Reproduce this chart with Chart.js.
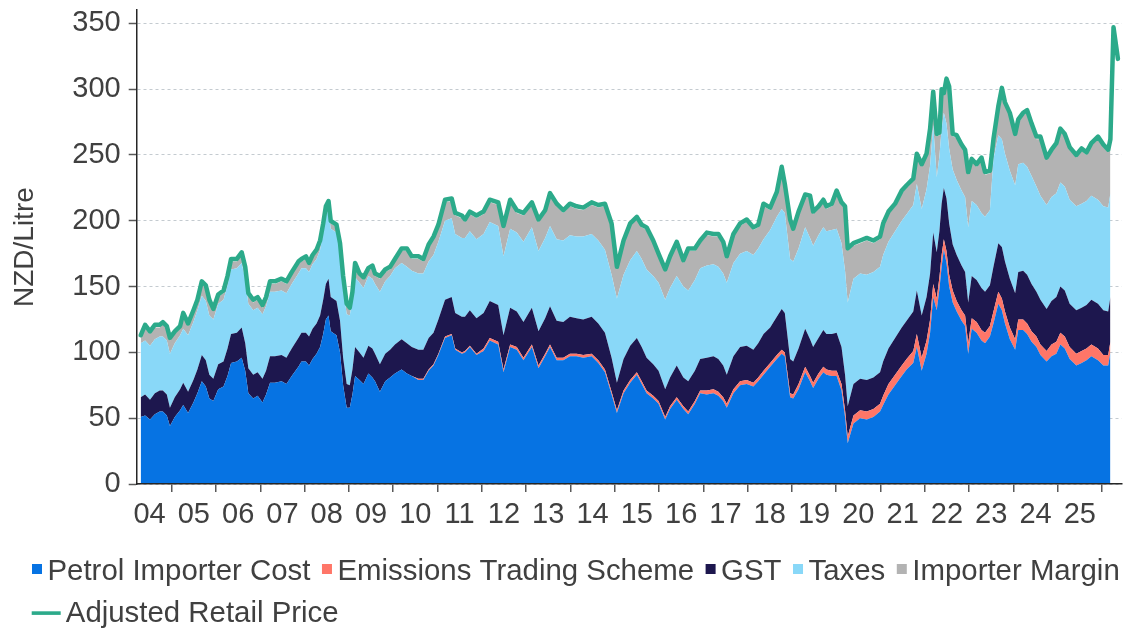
<!DOCTYPE html>
<html>
<head>
<meta charset="utf-8">
<script src="https://cdn.jsdelivr.net/npm/chart.js@4.4.1/dist/chart.umd.min.js"></script>
<style>
html,body{margin:0;padding:0;background:#ffffff;}
#wrap{width:1128px;height:628px;position:relative;}
</style>
</head>
<body>
<div id="wrap"><canvas id="c"></canvas></div>
<script>
// ---- data (decimal years, NZD cents per litre) ----
const weeks = [
2004.30,2004.40,2004.51,2004.62,2004.73,2004.80,2004.89,2004.96,2005.07,2005.19,
2005.26,2005.37,2005.49,2005.58,2005.68,2005.77,2005.85,2005.94,2006.05,2006.17,
2006.26,2006.34,2006.47,2006.58,2006.66,2006.73,2006.84,2006.94,2007.05,2007.13,
2007.22,2007.33,2007.48,2007.59,2007.71,2007.86,2007.93,2008.03,2008.10,2008.18,
2008.27,2008.35,2008.42,2008.48,2008.54,2008.59,2008.72,2008.80,2008.87,2008.95,
2009.02,2009.08,2009.14,2009.24,2009.33,2009.44,2009.53,2009.59,2009.70,2009.82,
2009.93,2010.04,2010.19,2010.31,2010.42,2010.57,2010.68,2010.80,2010.91,2011.02,
2011.17,2011.32,2011.40,2011.55,2011.62,2011.73,2011.88,2012.04,2012.18,2012.37,
2012.49,2012.64,2012.79,2012.94,2013.13,2013.28,2013.43,2013.54,2013.69,2013.84,
2013.99,2014.14,2014.29,2014.48,2014.63,2014.78,2014.93,2015.05,2015.20,2015.35,
2015.50,2015.61,2015.72,2015.87,2015.99,2016.14,2016.25,2016.40,2016.55,2016.66,
2016.81,2016.93,2017.08,2017.23,2017.34,2017.45,2017.53,2017.68,2017.83,2017.98,
2018.13,2018.24,2018.36,2018.51,2018.66,2018.77,2018.84,2018.96,2019.03,2019.15,
2019.30,2019.41,2019.48,2019.60,2019.71,2019.78,2019.90,2020.01,2020.12,2020.20,
2020.26,2020.39,2020.54,2020.69,2020.84,2020.99,2021.06,2021.18,2021.33,2021.48,
2021.59,2021.74,2021.82,2021.93,2022.04,2022.12,2022.19,2022.27,2022.33,2022.38,
2022.43,2022.49,2022.55,2022.63,2022.72,2022.83,2022.91,2022.98,2023.06,2023.17,
2023.28,2023.36,2023.47,2023.55,2023.66,2023.74,2023.81,2023.92,2024.04,2024.11,
2024.22,2024.31,2024.41,2024.52,2024.61,2024.75,2024.86,2024.97,2025.06,2025.16,
2025.27,2025.42,2025.54,2025.65,2025.76,2025.91,2026.03,2026.14,2026.19,2026.26,
2026.36
];

const importerCost = [
51,52,49,53,55,55,52,44,51,56,
60,54,62,69,78,74,65,63,72,74,
82,92,93,96,86,69,65,67,62,68,
77,77,78,76,82,89,93,93,90,95,
99,104,114,125,128,116,113,100,75,58,
58,68,82,79,76,84,81,78,70,78,
81,84,87,84,82,79,79,86,90,98,
111,113,102,99,100,104,98,101,109,106,
85,104,102,94,104,88,97,104,94,94,
97,97,96,97,92,85,68,54,69,77,
83,76,69,65,61,49,57,64,57,53,
61,69,68,69,67,63,58,69,75,76,
74,78,83,89,95,99,97,66,65,72,
85,78,73,80,85,83,82,82,71,51,
31,46,50,49,51,55,60,68,75,82,
87,92,104,86,99,115,142,132,148,165,
178,168,150,138,131,124,120,99,118,115,
109,107,112,122,137,132,122,110,102,117,
117,114,108,104,98,93,97,99,106,103,
95,90,92,94,97,94,90,90,100
];

const ets = [
0,0,0,0,0,0,0,0,0,0,
0,0,0,0,0,0,0,0,0,0,
0,0,0,0,0,0,0,0,0,0,
0,0,0,0,0,0,0,0,0,0,
0,0,0,0,0,0,0,0,0,0,
0,0,0,0,0,0,0,0,0,0,
0,0,0,0,0,1,1,1,1,1,
1,1,1,1,1,1,1,2,2,2,
2,2,2,2,2,2,2,2,2,2,
2,2,2,2,2,2,2,2,2,2,
2,2,2,2,2,2,2,2,2,2,
2,2,3,3,3,3,3,3,3,3,
3,3,3,3,3,3,3,3,3,4,
4,4,4,4,4,4,4,4,5,5,
5,6,6,6,6,6,7,8,8,8,
8,9,10,10,10,10,10,9,9,9,
8,9,9,9,8,8,8,8,8,8,
8,8,8,9,9,9,9,9,8,8,
8,8,8,8,8,8,9,9,9,9,
9,9,9,9,9,9,8,8,8
];

const gst = [
15,16,15,16,16,16,16,14,15,16,
17,16,17,18,20,20,18,17,19,19,
21,22,22,23,21,19,18,18,18,18,
20,20,20,20,21,22,22,22,22,23,
23,24,26,27,28,26,26,24,21,18,
17,19,22,21,20,21,22,21,21,21,
21,22,23,23,22,22,22,24,24,26,
28,28,27,27,26,27,27,27,28,28,
26,28,27,27,28,26,27,29,28,27,
28,27,27,28,28,28,26,21,24,26,
26,26,25,24,23,21,22,24,22,23,
23,24,25,25,25,24,22,25,26,26,
25,26,28,27,29,31,30,26,25,27,
29,28,27,27,28,27,28,29,28,27,
23,24,24,24,24,24,26,27,28,29,
29,30,33,32,33,35,39,35,35,39,
39,40,39,35,35,34,33,31,32,32,
32,31,31,34,37,39,38,37,35,36,
37,37,36,34,34,32,33,34,35,35,
33,33,33,33,34,34,34,33,34
];

const taxes = [
41,41,41,41,41,41,41,41,41,41,
41,43,44,45,45,45,45,45,46,47,
48,49,49,49,49,49,49,49,49,49,
49,49,49,49,49,49,49,49,49,49,
49,50,51,52,52,52,52,53,53,53,
53,53,53,53,53,53,53,53,55,55,
56,58,58,58,58,58,58,58,59,59,
60,60,60,60,60,60,60,60,60,60,
60,60,60,61,61,61,61,61,62,62,
62,62,63,63,63,63,63,64,64,65,
66,67,67,67,67,68,68,68,69,69,
69,69,70,70,70,70,70,71,71,72,
72,72,72,74,76,76,76,76,76,76,
77,77,77,78,78,78,79,79,79,79,
79,80,80,80,80,80,81,81,81,81,
81,81,81,81,82,82,82,57,57,57,
57,57,57,57,57,57,57,57,57,57,
57,57,57,82,82,82,82,82,82,82,
82,82,82,80,79,79,79,79,79,79,
79,79,79,79,79,79,79,79,79
];

const importerMargin = [
4,10,9,9,7,9,9,10,7,5,
10,7,7,6,9,10,10,6,5,5,
5,6,5,6,7,6,6,6,5,5,
6,6,7,7,7,7,5,7,5,5,
5,5,5,5,5,4,4,4,7,6,
4,4,9,5,6,4,8,6,10,7,
5,5,9,12,9,11,9,11,12,11,
14,13,14,15,12,13,16,15,15,16,
21,20,15,20,17,22,19,23,25,21,
22,21,20,22,25,33,37,22,24,26,
24,24,30,25,20,21,22,24,18,30,
22,19,23,21,23,22,18,20,21,22,
19,16,25,15,17,30,20,28,23,26,
23,30,24,20,19,17,18,27,29,47,
39,25,23,26,22,21,22,21,19,21,
20,18,21,32,25,26,23,31,16,28,
13,32,45,25,32,33,34,40,30,29,
40,32,28,13,20,37,37,42,37,32,
36,41,38,36,43,34,34,36,39,38,
38,37,40,35,38,46,45,42,39
];

const retailPrice = [
113,121,116,121,121,123,120,111,116,120,
130,122,132,140,154,151,140,133,144,147,
158,171,171,176,165,145,140,142,136,142,
154,154,156,154,161,169,171,173,168,174,
178,185,198,211,215,200,197,183,158,137,
134,146,168,160,157,164,166,160,158,163,
165,171,179,179,173,173,171,182,188,197,
216,217,206,204,201,207,204,207,216,214,
196,216,208,206,214,201,208,221,213,208,
213,211,210,214,212,213,198,165,185,198,
203,197,195,185,175,163,173,184,170,179,
179,185,191,190,190,184,173,190,198,201,
195,197,213,210,222,241,228,201,194,207,
220,219,207,211,216,211,213,223,214,211,
179,183,185,187,185,188,198,207,213,223,
227,232,251,243,251,270,298,266,267,300,
297,308,302,266,265,258,254,237,247,243,
248,237,238,262,287,301,290,282,266,277,
282,284,274,264,264,248,254,259,270,266,
256,250,255,252,259,264,258,254,262,347,
323
];

const yearTicks = [2004,2005,2006,2007,2008,2009,2010,2011,2012,2013,2014,2015,2016,2017,2018,2019,2020,2021,2022,2023,2024,2025];
const yearLabels = ['04','05','06','07','08','09','10','11','12','13','14','15','16','17','18','19','20','21','22','23','24','25'];
const yTickValues = [0,50,100,150,200,250,300,350];

// ---- styling ----
const C_PIC = '#0673E3';
const C_ETS = '#FF7668';
const C_GST = '#1D174E';
const C_TAX = '#89D8F8';
const C_MAR = '#B3B3B3';
const C_RET = '#2CAA8A';
const TXT = '#404040';
const FONT_FAMILY = "'Liberation Sans', Arial, Helvetica, sans-serif";

Chart.defaults.font.family = FONT_FAMILY;

function toPoints(values) {
  return values.map((v, i) => ({ x: weeks[i], y: v }));
}

function area(label, values, color, fill) {
  return {
    label, data: toPoints(values), stack: 'cost', fill,
    backgroundColor: color, borderColor: color, borderWidth: 0,
    pointRadius: 0, pointHoverRadius: 0, tension: 0
  };
}

// legend drawn below the axis: squares for areas, a line for the retail price
const bottomLegend = {
  id: 'bottomLegend',
  afterDraw(chart) {
    const ctx = chart.ctx;
    const ds = chart.data.datasets;
    ctx.save();
    ctx.font = '29.4px ' + FONT_FAMILY;
    ctx.textBaseline = 'middle';
    ctx.textAlign = 'left';
    let x = 32;
    [1, 2, 3, 4, 5].forEach(i => {
      ctx.fillStyle = ds[i].backgroundColor;
      ctx.fillRect(x, 564, 10, 10);
      ctx.fillStyle = TXT;
      ctx.fillText(ds[i].label, x + 15.5, 571.5);
      x += 15.5 + ctx.measureText(ds[i].label).width + 11.5;
    });
    ctx.fillStyle = ds[0].borderColor;
    ctx.fillRect(31.7, 611.3, 29, 3.6);
    ctx.fillStyle = TXT;
    ctx.fillText(ds[0].label, 65.8, 614.2);
    ctx.restore();
  }
};

new Chart(document.getElementById('c'), {
  type: 'line',
  data: {
    datasets: [
      { label: 'Adjusted Retail Price', data: toPoints(retailPrice), stack: 'retail', fill: false,
        borderColor: C_RET, backgroundColor: C_RET, borderWidth: 4.5, pointRadius: 0, pointHoverRadius: 0,
        tension: 0, borderJoinStyle: 'round', borderCapStyle: 'round' },
      area('Petrol Importer Cost', importerCost, C_PIC, 'origin'),
      area('Emissions Trading Scheme', ets, C_ETS, '-1'),
      area('GST', gst, C_GST, '-1'),
      area('Taxes', taxes, C_TAX, '-1'),
      area('Importer Margin', importerMargin, C_MAR, '-1')
    ]
  },
  plugins: [bottomLegend],
  options: {
    responsive: true,
    maintainAspectRatio: false,
    animation: false,
    devicePixelRatio: 1,
    events: [],
    layout: { padding: { left: 22, right: 0, top: 10.2, bottom: 81.5 } },
    scales: {
      x: {
        type: 'linear', min: 2004.21, max: 2026.445,
        afterBuildTicks: s => { s.ticks = yearTicks.map(y => ({ value: y + 0.5 })); },
        afterFit: s => { s.height = 62.5; s.paddingLeft = 0; s.paddingRight = 6.3; },
        ticks: {
          autoSkip: false, maxRotation: 0, minRotation: 0, padding: 6, color: TXT,
          font: { size: 29 },
          callback: v => yearLabels[yearTicks.indexOf(Math.round(v - 0.5))]
        },
        grid: { display: true, drawOnChartArea: false, drawTicks: true, tickLength: 8, offset: true,
                tickColor: '#595959', tickWidth: 1.5, lineWidth: 1.5 },
        border: { display: true, color: '#262626', width: 1.5, z: 1 }
      },
      y: {
        stacked: true, min: 0, max: 360,
        afterBuildTicks: s => { s.ticks = yTickValues.map(v => ({ value: v })); },
        afterFit: s => { s.width = 114.7; s.paddingTop = 0; s.paddingBottom = 0; },
        ticks: { padding: 8, color: TXT, font: { size: 29 } },
        grid: { color: '#C4CBD0', lineWidth: 1, tickLength: 8, tickColor: '#595959', tickWidth: 1.5, tickBorderDash: [] },
        border: { display: true, color: '#262626', width: 1.5, dash: [3, 3] },
        title: { display: true, text: 'NZD/Litre', color: TXT, font: { size: 28 }, padding: { top: -14, bottom: 0 } }
      }
    },
    plugins: {
      tooltip: { enabled: false },
      legend: { display: false }
    }
  }
});
</script>
</body>
</html>
